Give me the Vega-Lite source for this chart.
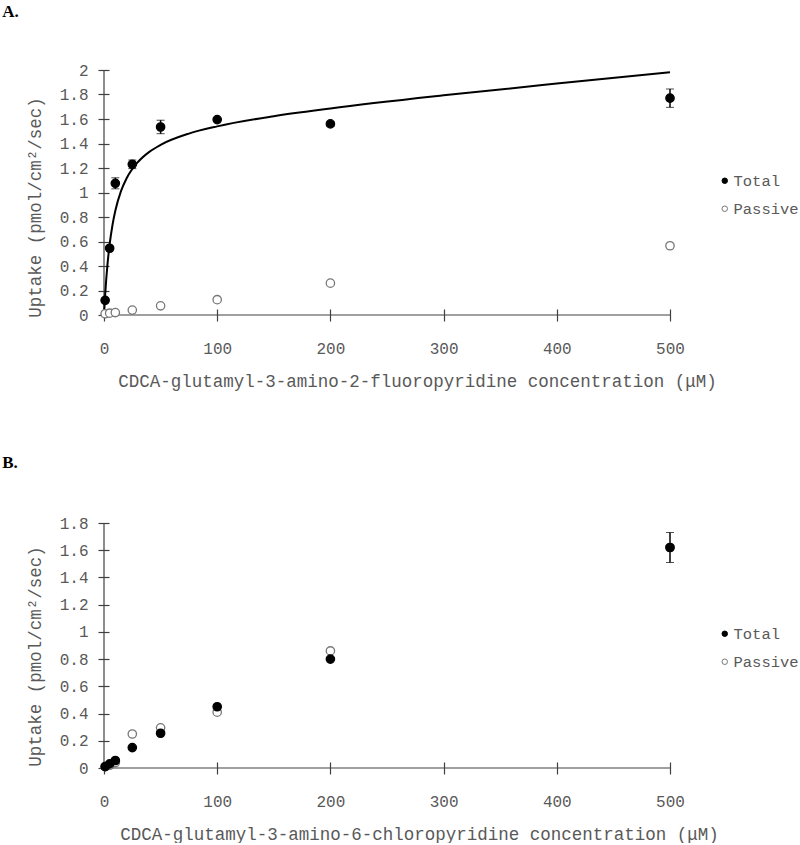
{
  "$schema": "https://vega.github.io/schema/vega-lite/v6.json",
  "padding": {"left": 2, "top": 3, "right": 0, "bottom": 0},
  "background": "white",
  "spacing": 64,
  "config": {
    "view": {"stroke": null},
    "axis": {
      "labelFont": "Liberation Mono",
      "labelFontSize": 16,
      "labelColor": "#595959",
      "labelOverlap": false,
      "labelFlush": false,
      "titleFont": "Liberation Mono",
      "titleFontSize": 17.5,
      "titleColor": "#595959",
      "titleFontWeight": "normal",
      "tickColor": "#404040",
      "tickWidth": 1.2,
      "grid": false,
      "domain": false
    },
    "title": {
      "font": "Liberation Serif",
      "fontSize": 17,
      "fontWeight": "bold",
      "color": "black",
      "anchor": "start",
      "frame": "bounds",
      "dx": -24
    }
  },
  "resolve": {"scale": {"fill": "independent", "stroke": "independent"}},
  "datasets": {
    "a_pts": [
      {"series": "Passive", "conc": 1, "uptake": 0.01},
      {"series": "Passive", "conc": 5, "uptake": 0.015},
      {"series": "Passive", "conc": 10, "uptake": 0.02},
      {"series": "Passive", "conc": 25, "uptake": 0.04},
      {"series": "Passive", "conc": 50, "uptake": 0.075},
      {"series": "Passive", "conc": 100, "uptake": 0.125},
      {"series": "Passive", "conc": 200, "uptake": 0.26},
      {"series": "Passive", "conc": 500, "uptake": 0.565},
      {"series": "Total", "conc": 1, "uptake": 0.12, "lo": 0.11, "hi": 0.13},
      {"series": "Total", "conc": 5, "uptake": 0.545, "lo": 0.535, "hi": 0.555},
      {"series": "Total", "conc": 10, "uptake": 1.075, "lo": 1.03, "hi": 1.12},
      {"series": "Total", "conc": 25, "uptake": 1.23, "lo": 1.195, "hi": 1.265},
      {"series": "Total", "conc": 50, "uptake": 1.535, "lo": 1.48, "hi": 1.59},
      {"series": "Total", "conc": 100, "uptake": 1.595, "lo": 1.585, "hi": 1.605},
      {"series": "Total", "conc": 200, "uptake": 1.56, "lo": 1.54, "hi": 1.58},
      {"series": "Total", "conc": 500, "uptake": 1.77, "lo": 1.695, "hi": 1.845}
    ],
    "a_fit": [
      {"conc": 0, "uptake": 0},
      {"conc": 1, "uptake": 0.162},
      {"conc": 2, "uptake": 0.295},
      {"conc": 3, "uptake": 0.405},
      {"conc": 5, "uptake": 0.578},
      {"conc": 7.5, "uptake": 0.735},
      {"conc": 10, "uptake": 0.851},
      {"conc": 15, "uptake": 1.011},
      {"conc": 20, "uptake": 1.116},
      {"conc": 30, "uptake": 1.249},
      {"conc": 40, "uptake": 1.332},
      {"conc": 50, "uptake": 1.389},
      {"conc": 75, "uptake": 1.481},
      {"conc": 100, "uptake": 1.54},
      {"conc": 150, "uptake": 1.623},
      {"conc": 200, "uptake": 1.686},
      {"conc": 300, "uptake": 1.793},
      {"conc": 400, "uptake": 1.889},
      {"conc": 500, "uptake": 1.981}
    ],
    "b_pts": [
      {"series": "Passive", "conc": 1, "uptake": 0.01},
      {"series": "Passive", "conc": 5, "uptake": 0.02},
      {"series": "Passive", "conc": 10, "uptake": 0.04},
      {"series": "Passive", "conc": 25, "uptake": 0.25},
      {"series": "Passive", "conc": 50, "uptake": 0.295},
      {"series": "Passive", "conc": 100, "uptake": 0.41},
      {"series": "Passive", "conc": 200, "uptake": 0.86},
      {"series": "Passive", "conc": 500, "uptake": 1.62},
      {"series": "Total", "conc": 1, "uptake": 0.01},
      {"series": "Total", "conc": 5, "uptake": 0.03},
      {"series": "Total", "conc": 10, "uptake": 0.055},
      {"series": "Total", "conc": 25, "uptake": 0.15},
      {"series": "Total", "conc": 50, "uptake": 0.255},
      {"series": "Total", "conc": 100, "uptake": 0.45},
      {"series": "Total", "conc": 200, "uptake": 0.80},
      {"series": "Total", "conc": 500, "uptake": 1.62, "lo": 1.51, "hi": 1.73}
    ]
  },
  "vconcat": [
    {
      "width": 566,
      "height": 245,
      "title": {"text": "A.", "offset": 41},
      "layer": [
        {
          "data": {"values": [{"x0": 0, "x1": 500, "y0": 0, "y1": 2}]},
          "mark": {"type": "rule", "color": "#404040", "strokeWidth": 1.2},
          "encoding": {
            "x": {"field": "x0", "type": "quantitative", "title": "CDCA-glutamyl-3-amino-2-fluoropyridine concentration (μM)",
              "scale": {"domain": [0, 500], "nice": false},
              "axis": {"values": [0, 100, 200, 300, 400, 500], "tickCount": 6, "offset": -6, "tickSize": 12, "labelPadding": 19, "titlePadding": 16, "titleX": 313}},
            "x2": {"field": "x1"},
            "y": {"field": "y0", "type": "quantitative", "title": "Uptake (pmol/cm²/sec)",
              "scale": {"domain": [0, 2], "nice": false},
              "axis": {"values": [0, 0.2, 0.4, 0.6, 0.8, 1, 1.2, 1.4, 1.6, 1.8, 2], "tickCount": 11, "format": "~g", "offset": -5, "tickSize": 11, "labelPadding": 10, "titlePadding": 15, "titleY": 137}}
          }
        },
        {
          "data": {"values": [{"x0": 0, "x1": 500, "y0": 0, "y1": 2}]},
          "mark": {"type": "rule", "color": "#404040", "strokeWidth": 1.2},
          "encoding": {
            "x": {"field": "x0", "type": "quantitative", "title": "CDCA-glutamyl-3-amino-2-fluoropyridine concentration (μM)"},
            "y": {"field": "y0", "type": "quantitative", "title": "Uptake (pmol/cm²/sec)"},
            "y2": {"field": "y1"}
          }
        },
        {
          "data": {"name": "a_fit"},
          "mark": {"type": "line", "color": "black", "strokeWidth": 2, "interpolate": "monotone"},
          "encoding": {
            "x": {"field": "conc", "type": "quantitative", "title": "CDCA-glutamyl-3-amino-2-fluoropyridine concentration (μM)"},
            "y": {"field": "uptake", "type": "quantitative", "title": "Uptake (pmol/cm²/sec)"}
          }
        },
        {
          "data": {"name": "a_pts"},
          "transform": [{"filter": "datum.lo != null"}],
          "mark": {"type": "errorbar", "ticks": {"size": 8, "color": "black", "strokeWidth": 1.5}, "rule": {"color": "black", "strokeWidth": 1.5}},
          "encoding": {
            "x": {"field": "conc", "type": "quantitative", "title": "CDCA-glutamyl-3-amino-2-fluoropyridine concentration (μM)"},
            "y": {"field": "lo", "type": "quantitative", "title": "Uptake (pmol/cm²/sec)"},
            "y2": {"field": "hi"}
          }
        },
        {
          "data": {"name": "a_pts"},
          "mark": {"type": "circle", "size": 70, "strokeWidth": 1.3, "opacity": 1},
          "encoding": {
            "x": {"field": "conc", "type": "quantitative", "title": "CDCA-glutamyl-3-amino-2-fluoropyridine concentration (μM)"},
            "y": {"field": "uptake", "type": "quantitative", "title": "Uptake (pmol/cm²/sec)"},
            "fill": {"field": "series", "type": "nominal", "scale": {"domain": ["Total", "Passive"], "range": ["black", "white"]},
              "legend": {"orient": "none", "legendX": 613, "legendY": 103, "title": null, "labelFont": "Liberation Mono", "labelFontSize": 15.5, "labelColor": "#595959", "symbolSize": 30, "rowPadding": 11, "labelOffset": 1, "padding": 0, "symbolStrokeWidth": 1}},
            "stroke": {"field": "series", "type": "nominal", "scale": {"domain": ["Total", "Passive"], "range": ["black", "#777777"]},
              "legend": {"orient": "none", "legendX": 613, "legendY": 103, "title": null, "labelFont": "Liberation Mono", "labelFontSize": 15.5, "labelColor": "#595959", "symbolSize": 30, "rowPadding": 11, "labelOffset": 1, "padding": 0, "symbolStrokeWidth": 1}}
          }
        }
      ]
    },
    {
      "width": 566,
      "height": 245,
      "title": {"text": "B.", "offset": 43},
      "layer": [
        {
          "data": {"values": [{"x0": 0, "x1": 500, "y0": 0, "y1": 1.8}]},
          "mark": {"type": "rule", "color": "#404040", "strokeWidth": 1.2},
          "encoding": {
            "x": {"field": "x0", "type": "quantitative", "title": "CDCA-glutamyl-3-amino-6-chloropyridine concentration (μM)",
              "scale": {"domain": [0, 500], "nice": false},
              "axis": {"values": [0, 100, 200, 300, 400, 500], "tickCount": 6, "offset": -6, "tickSize": 12, "labelPadding": 19, "titlePadding": 16, "titleX": 315}},
            "x2": {"field": "x1"},
            "y": {"field": "y0", "type": "quantitative", "title": "Uptake (pmol/cm²/sec)",
              "scale": {"domain": [0, 1.8], "nice": false},
              "axis": {"values": [0, 0.2, 0.4, 0.6, 0.8, 1, 1.2, 1.4, 1.6, 1.8], "tickCount": 10, "format": "~g", "offset": -5, "tickSize": 11, "labelPadding": 10, "titlePadding": 15, "titleY": 133}}
          }
        },
        {
          "data": {"values": [{"x0": 0, "x1": 500, "y0": 0, "y1": 1.8}]},
          "mark": {"type": "rule", "color": "#404040", "strokeWidth": 1.2},
          "encoding": {
            "x": {"field": "x0", "type": "quantitative", "title": "CDCA-glutamyl-3-amino-6-chloropyridine concentration (μM)"},
            "y": {"field": "y0", "type": "quantitative", "title": "Uptake (pmol/cm²/sec)"},
            "y2": {"field": "y1"}
          }
        },
        {
          "data": {"name": "b_pts"},
          "transform": [{"filter": "datum.lo != null"}],
          "mark": {"type": "errorbar", "ticks": {"size": 8, "color": "black", "strokeWidth": 1.5}, "rule": {"color": "black", "strokeWidth": 1.5}},
          "encoding": {
            "x": {"field": "conc", "type": "quantitative", "title": "CDCA-glutamyl-3-amino-6-chloropyridine concentration (μM)"},
            "y": {"field": "lo", "type": "quantitative", "title": "Uptake (pmol/cm²/sec)"},
            "y2": {"field": "hi"}
          }
        },
        {
          "data": {"name": "b_pts"},
          "mark": {"type": "circle", "size": 70, "strokeWidth": 1.3, "opacity": 1},
          "encoding": {
            "x": {"field": "conc", "type": "quantitative", "title": "CDCA-glutamyl-3-amino-6-chloropyridine concentration (μM)"},
            "y": {"field": "uptake", "type": "quantitative", "title": "Uptake (pmol/cm²/sec)"},
            "fill": {"field": "series", "type": "nominal", "scale": {"domain": ["Total", "Passive"], "range": ["black", "white"]},
              "legend": {"orient": "none", "legendX": 613, "legendY": 103, "title": null, "labelFont": "Liberation Mono", "labelFontSize": 15.5, "labelColor": "#595959", "symbolSize": 30, "rowPadding": 11, "labelOffset": 1, "padding": 0, "symbolStrokeWidth": 1}},
            "stroke": {"field": "series", "type": "nominal", "scale": {"domain": ["Total", "Passive"], "range": ["black", "#777777"]},
              "legend": {"orient": "none", "legendX": 613, "legendY": 103, "title": null, "labelFont": "Liberation Mono", "labelFontSize": 15.5, "labelColor": "#595959", "symbolSize": 30, "rowPadding": 11, "labelOffset": 1, "padding": 0, "symbolStrokeWidth": 1}}
          }
        }
      ]
    }
  ]
}
